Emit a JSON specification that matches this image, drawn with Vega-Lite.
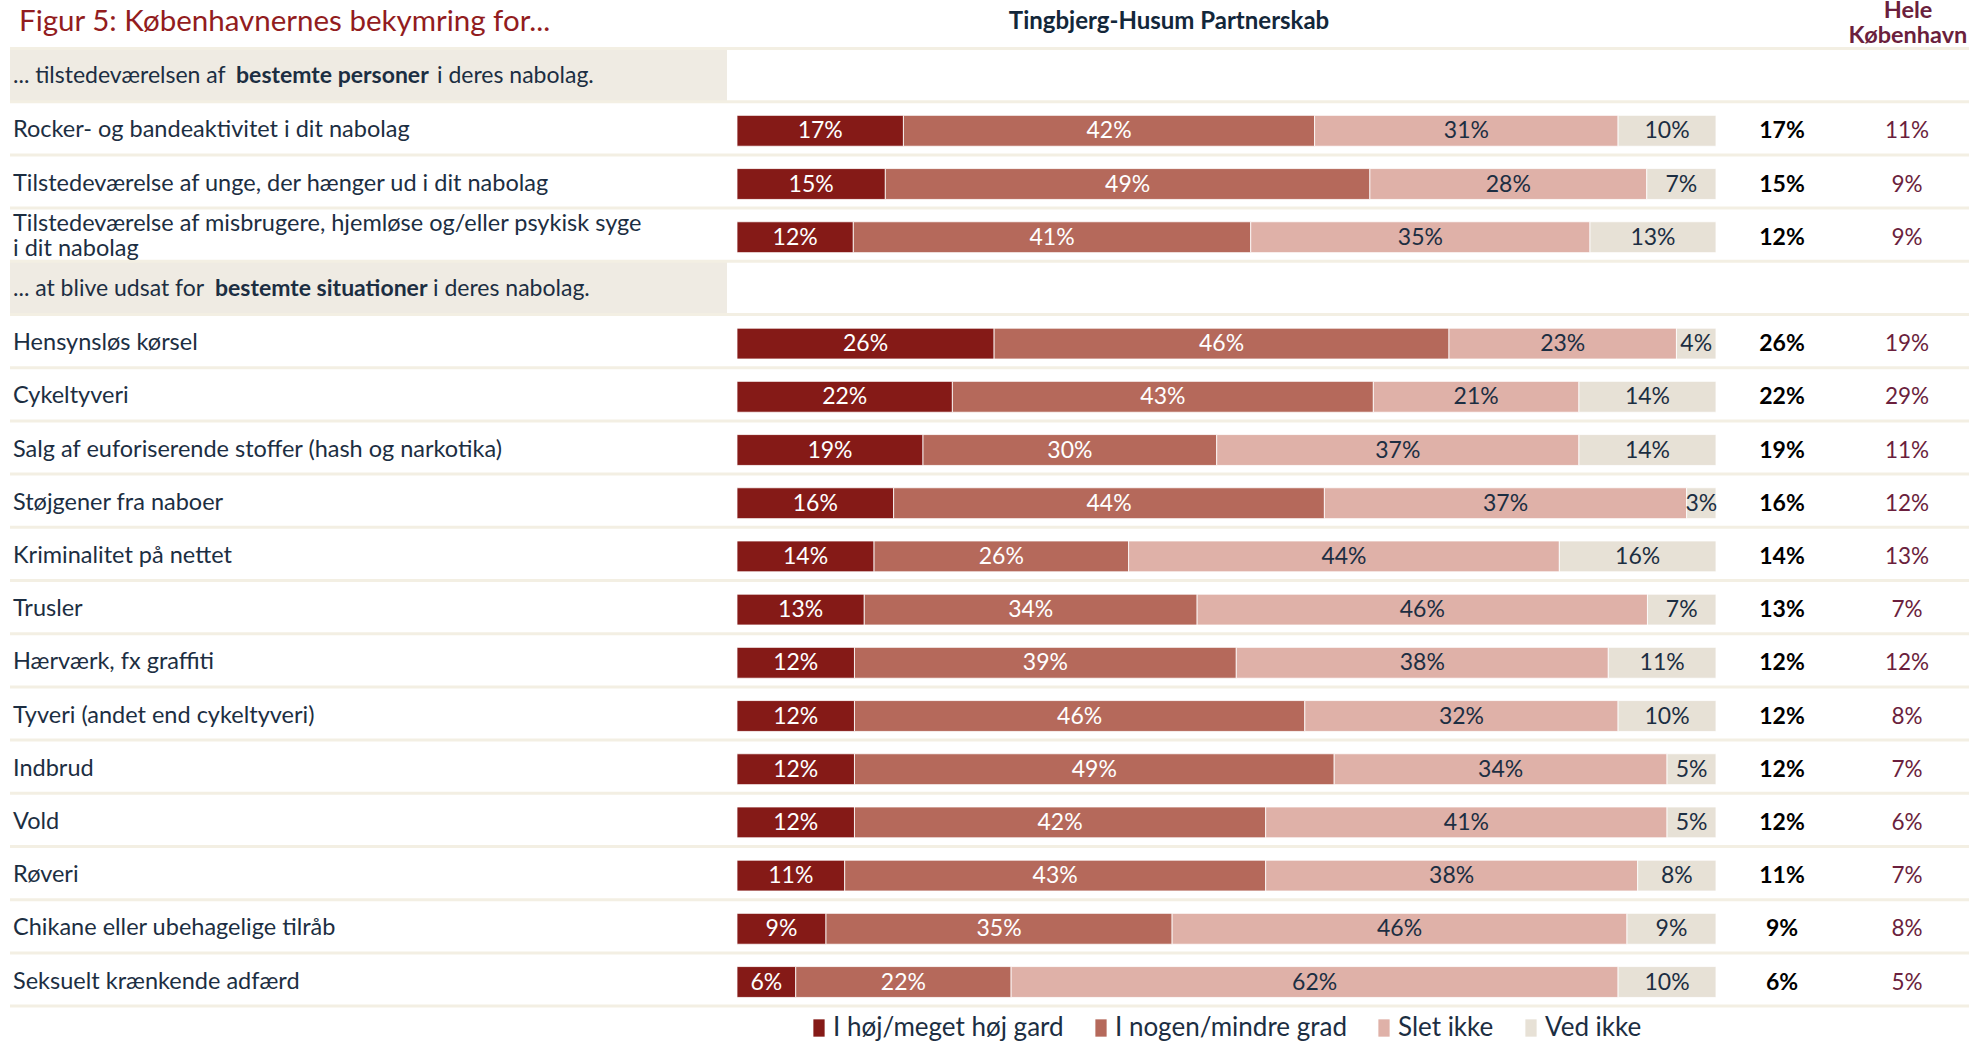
{
  "$schema": "https://vega.github.io/schema/vega-lite/v6.json",
  "width": 1969,
  "height": 1046,
  "autosize": {"type": "none"},
  "padding": 0,
  "background": "white",
  "config": {"view": {"stroke": null}, "font": "Lato", "text": {"font": "Lato"}},
  "datasets": {
    "rows": [
      {"label": "h1", "kind": "header", "pre": "... tilstedeværelsen af", "bold": "bestemte personer", "post": "i deres nabolag."},
      {"label": "Rocker- og bandeaktivitet i dit nabolag", "kind": "item", "I høj/meget høj gard": 0.17, "I nogen/mindre grad": 0.42, "Slet ikke": 0.31, "Ved ikke": 0.10, "kbh": 0.11},
      {"label": "Tilstedeværelse af unge, der hænger ud i dit nabolag", "kind": "item", "I høj/meget høj gard": 0.15, "I nogen/mindre grad": 0.49, "Slet ikke": 0.28, "Ved ikke": 0.07, "kbh": 0.09},
      {"label": "Tilstedeværelse af misbrugere, hjemløse og/eller psykisk syge\ni dit nabolag", "kind": "item", "I høj/meget høj gard": 0.12, "I nogen/mindre grad": 0.41, "Slet ikke": 0.35, "Ved ikke": 0.13, "kbh": 0.09},
      {"label": "h2", "kind": "header", "pre": "... at blive udsat for", "bold": "bestemte situationer", "post": "i deres nabolag."},
      {"label": "Hensynsløs kørsel", "kind": "item", "I høj/meget høj gard": 0.26, "I nogen/mindre grad": 0.46, "Slet ikke": 0.23, "Ved ikke": 0.04, "kbh": 0.19},
      {"label": "Cykeltyveri", "kind": "item", "I høj/meget høj gard": 0.22, "I nogen/mindre grad": 0.43, "Slet ikke": 0.21, "Ved ikke": 0.14, "kbh": 0.29},
      {"label": "Salg af euforiserende stoffer (hash og narkotika)", "kind": "item", "I høj/meget høj gard": 0.19, "I nogen/mindre grad": 0.30, "Slet ikke": 0.37, "Ved ikke": 0.14, "kbh": 0.11},
      {"label": "Støjgener fra naboer", "kind": "item", "I høj/meget høj gard": 0.16, "I nogen/mindre grad": 0.44, "Slet ikke": 0.37, "Ved ikke": 0.03, "kbh": 0.12},
      {"label": "Kriminalitet på nettet", "kind": "item", "I høj/meget høj gard": 0.14, "I nogen/mindre grad": 0.26, "Slet ikke": 0.44, "Ved ikke": 0.16, "kbh": 0.13},
      {"label": "Trusler", "kind": "item", "I høj/meget høj gard": 0.13, "I nogen/mindre grad": 0.34, "Slet ikke": 0.46, "Ved ikke": 0.07, "kbh": 0.07},
      {"label": "Hærværk, fx graffiti", "kind": "item", "I høj/meget høj gard": 0.12, "I nogen/mindre grad": 0.39, "Slet ikke": 0.38, "Ved ikke": 0.11, "kbh": 0.12},
      {"label": "Tyveri (andet end cykeltyveri)", "kind": "item", "I høj/meget høj gard": 0.12, "I nogen/mindre grad": 0.46, "Slet ikke": 0.32, "Ved ikke": 0.10, "kbh": 0.08},
      {"label": "Indbrud", "kind": "item", "I høj/meget høj gard": 0.12, "I nogen/mindre grad": 0.49, "Slet ikke": 0.34, "Ved ikke": 0.05, "kbh": 0.07},
      {"label": "Vold", "kind": "item", "I høj/meget høj gard": 0.12, "I nogen/mindre grad": 0.42, "Slet ikke": 0.41, "Ved ikke": 0.05, "kbh": 0.06},
      {"label": "Røveri", "kind": "item", "I høj/meget høj gard": 0.11, "I nogen/mindre grad": 0.43, "Slet ikke": 0.38, "Ved ikke": 0.08, "kbh": 0.07},
      {"label": "Chikane eller ubehagelige tilråb", "kind": "item", "I høj/meget høj gard": 0.09, "I nogen/mindre grad": 0.35, "Slet ikke": 0.46, "Ved ikke": 0.09, "kbh": 0.08},
      {"label": "Seksuelt krænkende adfærd", "kind": "item", "I høj/meget høj gard": 0.06, "I nogen/mindre grad": 0.22, "Slet ikke": 0.62, "Ved ikke": 0.10, "kbh": 0.05}
    ]
  },
  "data": {"name": "rows"},
  "layer": [
    {
      "transform": [{"filter": "datum.kind == 'header'"}],
      "mark": {"type": "rect", "color": "#efebe3"},
      "encoding": {
        "y": {
          "field": "label", "type": "nominal", "axis": null,
          "scale": {
            "domain": ["_title", "h1",
              "Rocker- og bandeaktivitet i dit nabolag",
              "Tilstedeværelse af unge, der hænger ud i dit nabolag",
              "Tilstedeværelse af misbrugere, hjemløse og/eller psykisk syge\ni dit nabolag",
              "h2", "Hensynsløs kørsel", "Cykeltyveri",
              "Salg af euforiserende stoffer (hash og narkotika)",
              "Støjgener fra naboer", "Kriminalitet på nettet", "Trusler",
              "Hærværk, fx graffiti", "Tyveri (andet end cykeltyveri)", "Indbrud",
              "Vold", "Røveri", "Chikane eller ubehagelige tilråb",
              "Seksuelt krænkende adfærd", "_legend"],
            "range": [-4.7, 1059.3],
            "paddingInner": 0,
            "paddingOuter": 0
          }
        },
        "x": {"datum": -0.7426, "type": "quantitative", "axis": null, "scale": {"domain": [-0.75281, 1.25843], "nice": false, "zero": false}},
        "x2": {"datum": -0.0102}
      }
    },
    {
      "mark": {"type": "rule", "color": "#f3efe3", "strokeWidth": 3},
      "encoding": {
        "y": {"field": "label", "type": "nominal", "bandPosition": 0},
        "x": {"datum": -0.7426, "type": "quantitative"},
        "x2": {"datum": 1.2584}
      }
    },
    {
      "transform": [{"filter": "datum.label == 'Seksuelt krænkende adfærd'"}],
      "mark": {"type": "rule", "color": "#f3efe3", "strokeWidth": 3},
      "encoding": {
        "y": {"field": "label", "type": "nominal", "bandPosition": 1},
        "x": {"datum": -0.7426, "type": "quantitative"},
        "x2": {"datum": 1.2584}
      }
    },
    {
      "transform": [
        {"filter": "datum.kind == 'item'"},
        {"fold": ["I høj/meget høj gard", "I nogen/mindre grad", "Slet ikke", "Ved ikke"], "as": ["cat", "pct"]}
      ],
      "mark": {"type": "bar", "height": {"band": 0.58}, "stroke": "white", "strokeWidth": 0.8, "yOffset": 2.5},
      "encoding": {
        "y": {"field": "label", "type": "nominal"},
        "x": {"field": "pct", "type": "quantitative", "stack": "normalize"},
        "order": {"field": "cat", "sort": "ascending"},
        "color": {
          "field": "cat", "type": "nominal",
          "scale": {"domain": ["I høj/meget høj gard", "I nogen/mindre grad", "Slet ikke", "Ved ikke"], "range": ["#851a17", "#b5695b", "#dfb1a8", "#e7e1d6"]},
          "legend": {
            "orient": "none", "legendX": 806, "legendY": 1015, "direction": "horizontal", "title": null,
            "symbolType": "M-0.65,-1H0.65V1H-0.65Z", "symbolSize": 300, "symbolStrokeWidth": 0, "symbolOpacity": 1,
            "labelFont": "Lato", "labelFontSize": 26, "labelColor": "#1c2e42", "labelLimit": 500,
            "labelOffset": 1, "columnPadding": 24
          }
        }
      }
    },
    {
      "transform": [
        {"filter": "datum.kind == 'item'"},
        {"fold": ["I høj/meget høj gard", "I nogen/mindre grad", "Slet ikke", "Ved ikke"], "as": ["cat", "pct"]}
      ],
      "mark": {"type": "text", "fontSize": 23, "baseline": "middle", "align": "center", "yOffset": 3},
      "encoding": {
        "y": {"field": "label", "type": "nominal"},
        "x": {"field": "pct", "type": "quantitative", "stack": "normalize", "bandPosition": 0.5},
        "order": {"field": "cat", "sort": "ascending"},
        "text": {"field": "pct", "type": "quantitative", "format": ".0%"},
        "color": {
          "condition": {"test": "datum.cat == 'Slet ikke' || datum.cat == 'Ved ikke'", "value": "#1c2e42"},
          "value": "white"
        }
      }
    },
    {
      "transform": [{"filter": "datum.kind == 'item' && indexof(datum.label, '\\n') < 0"}],
      "mark": {"type": "text", "fontSize": 23.5, "baseline": "middle", "align": "left", "color": "#1c2e42", "dy": 2},
      "encoding": {
        "y": {"field": "label", "type": "nominal"},
        "x": {"datum": -0.7395, "type": "quantitative"},
        "text": {"field": "label"}
      }
    },
    {
      "transform": [{"filter": "datum.kind == 'item' && indexof(datum.label, '\\n') >= 0"}],
      "mark": {"type": "text", "fontSize": 23.5, "baseline": "middle", "align": "left", "color": "#1c2e42", "lineBreak": "\n", "lineHeight": 24.5, "dy": -10.5},
      "encoding": {
        "y": {"field": "label", "type": "nominal"},
        "x": {"datum": -0.7395, "type": "quantitative"},
        "text": {"field": "label"}
      }
    },
    {
      "transform": [{"filter": "datum.kind == 'item'"}],
      "mark": {"type": "text", "fontSize": 23, "fontWeight": "bold", "baseline": "middle", "align": "center", "color": "#000000", "dy": 3},
      "encoding": {
        "y": {"field": "label", "type": "nominal"},
        "x": {"datum": 1.0674, "type": "quantitative"},
        "text": {"field": "I høj/meget høj gard", "type": "quantitative", "format": ".0%"}
      }
    },
    {
      "transform": [{"filter": "datum.kind == 'item'"}],
      "mark": {"type": "text", "fontSize": 22.5, "baseline": "middle", "align": "center", "color": "#6b1f3d", "dy": 3},
      "encoding": {
        "y": {"field": "label", "type": "nominal"},
        "x": {"datum": 1.1951, "type": "quantitative"},
        "text": {"field": "kbh", "type": "quantitative", "format": ".0%"}
      }
    },
    {
      "transform": [{"filter": "datum.kind == 'header'"}],
      "mark": {"type": "text", "fontSize": 23, "baseline": "middle", "align": "left", "color": "#1c2e42", "dy": 1},
      "encoding": {
        "y": {"field": "label", "type": "nominal"},
        "x": {"datum": -0.7395, "type": "quantitative"},
        "text": {"field": "pre"}
      }
    },
    {
      "transform": [{"filter": "datum.label == 'h1'"}],
      "mark": {"type": "text", "fontSize": 23, "fontWeight": "bold", "baseline": "middle", "align": "left", "color": "#1c2e42", "dy": 1},
      "encoding": {
        "y": {"field": "label", "type": "nominal"},
        "x": {"datum": -0.5117, "type": "quantitative"},
        "text": {"field": "bold"}
      }
    },
    {
      "transform": [{"filter": "datum.label == 'h1'"}],
      "mark": {"type": "text", "fontSize": 23, "baseline": "middle", "align": "left", "color": "#1c2e42", "dy": 1},
      "encoding": {
        "y": {"field": "label", "type": "nominal"},
        "x": {"datum": -0.3064, "type": "quantitative"},
        "text": {"field": "post"}
      }
    },
    {
      "transform": [{"filter": "datum.label == 'h2'"}],
      "mark": {"type": "text", "fontSize": 23, "fontWeight": "bold", "baseline": "middle", "align": "left", "color": "#1c2e42", "dy": 1},
      "encoding": {
        "y": {"field": "label", "type": "nominal"},
        "x": {"datum": -0.5332, "type": "quantitative"},
        "text": {"field": "bold"}
      }
    },
    {
      "transform": [{"filter": "datum.label == 'h2'"}],
      "mark": {"type": "text", "fontSize": 23, "baseline": "middle", "align": "left", "color": "#1c2e42", "dy": 1},
      "encoding": {
        "y": {"field": "label", "type": "nominal"},
        "x": {"datum": -0.3105, "type": "quantitative"},
        "text": {"field": "post"}
      }
    },
    {
      "data": {"values": [{"t": "Figur 5: Københavnernes bekymring for..."}]},
      "mark": {"type": "text", "fontSize": 29.5, "baseline": "middle", "align": "left", "color": "#921c20"},
      "encoding": {
        "y": {"datum": "_title", "type": "nominal"},
        "x": {"datum": -0.7334, "type": "quantitative"},
        "text": {"field": "t"}
      }
    },
    {
      "data": {"values": [{"t": "Tingbjerg-Husum Partnerskab"}]},
      "mark": {"type": "text", "fontSize": 24, "fontWeight": "bold", "baseline": "middle", "align": "center", "color": "#13273a"},
      "encoding": {
        "y": {"datum": "_title", "type": "nominal"},
        "x": {"datum": 0.4413, "type": "quantitative"},
        "text": {"field": "t"}
      }
    },
    {
      "data": {"values": [{"t": "Hele\nKøbenhavn"}]},
      "mark": {"type": "text", "fontSize": 23.5, "fontWeight": "bold", "baseline": "middle", "align": "center", "color": "#6b1f3d", "lineBreak": "\n", "lineHeight": 25, "dy": -11},
      "encoding": {
        "y": {"datum": "_title", "type": "nominal"},
        "x": {"datum": 1.1961, "type": "quantitative"},
        "text": {"field": "t"}
      }
    }
  ]
}
